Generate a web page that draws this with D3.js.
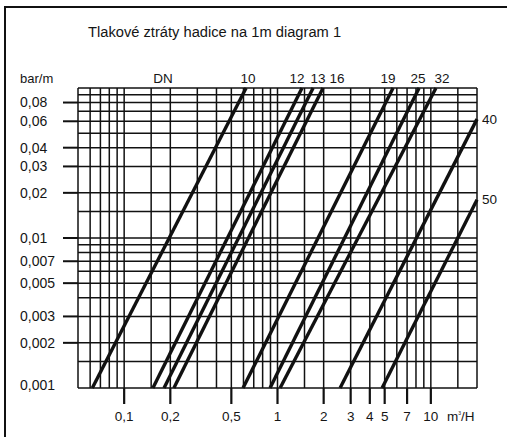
<!DOCTYPE html>
<html>
<head>
<meta charset="utf-8">
<script src="https://cdn.jsdelivr.net/npm/d3@7"></script>
<style>
  body { margin: 0; background: #fff; }
  text { font-family: "Liberation Sans", Arial, sans-serif; fill: #151515; }
</style>
</head>
<body>
<svg width="507" height="437"></svg>
<script>
// hose sizes (DN) and the two points read for each loss line
const dnLabels = ["10", "12", "13", "16", "19", "25", "32", "40", "50"];
const flowLow  = [0.062, 0.154, 0.182, 0.211, 0.596, 0.894, 1.04, 2.56, 4.81];   // m3/h at 0.001 bar/m
const flowHigh = [0.624, 1.445, 1.706, 1.98, 5.67, 8.38, 10.8, 20, 20];
const lossHigh = [0.1, 0.1, 0.1, 0.1, 0.1, 0.1, 0.1, 0.062, 0.018];               // bar/m

const xTicks = [0.1, 0.2, 0.5, 1, 2, 3, 4, 5, 7, 10];
const xTickLabels = ["0,1", "0,2", "0,5", "1", "2", "3", "4", "5", "7", "10"];
const yTicks = [0.08, 0.06, 0.04, 0.03, 0.02, 0.01, 0.007, 0.005, 0.003, 0.002, 0.001];
const yTickLabels = ["0,08", "0,06", "0,04", "0,03", "0,02", "0,01", "0,007", "0,005", "0,003", "0,002", "0,001"];

const xGrid = [0.05, 0.06, 0.07, 0.08, 0.09, 0.1, 0.15, 0.2, 0.3, 0.4, 0.5, 0.6, 0.7, 0.8, 0.9,
               1, 1.5, 2, 3, 4, 5, 6, 7, 8, 9, 10, 15, 20];
const yGrid = [0.001, 0.0015, 0.002, 0.003, 0.004, 0.005, 0.006, 0.007, 0.008, 0.009,
               0.01, 0.015, 0.02, 0.03, 0.04, 0.05, 0.06, 0.07, 0.08, 0.09, 0.1];

const svg = d3.select("svg");

const x = d3.scaleLog().domain([0.05, 20]).range([78, 477]);
const y = d3.scaleLog().domain([0.001, 0.1]).range([388, 88]);

// outer frame
svg.append("rect")
    .attr("x", 5).attr("y", 7)
    .attr("width", 530).attr("height", 460)
    .attr("fill", "none").attr("stroke", "#111").attr("stroke-width", 2);

svg.append("text")
    .attr("x", 88).attr("y", 37)
    .style("font-size", "14.7px")
    .text("Tlakové ztráty hadice na 1m diagram 1");

// grid
const grid = svg.append("g").attr("stroke", "#111").attr("stroke-width", 1.5);
grid.selectAll(".v").data(xGrid).join("line")
    .attr("x1", d => x(d)).attr("x2", d => x(d))
    .attr("y1", y(0.1)).attr("y2", y(0.001));
grid.selectAll(".h").data(yGrid).join("line")
    .attr("y1", d => y(d)).attr("y2", d => y(d))
    .attr("x1", x(0.05)).attr("x2", x(20));

// y ticks
const yAxis = svg.append("g");
yAxis.selectAll("line").data(yTicks.filter(d => d > 0.001)).join("line")
    .attr("x1", 63).attr("x2", x(0.05))
    .attr("y1", d => y(d)).attr("y2", d => y(d))
    .attr("stroke", "#111").attr("stroke-width", 2);
yAxis.selectAll("text").data(yTicks).join("text")
    .attr("x", 20).attr("y", d => y(d) - (d === 0.001 ? 3 : 0))
    .attr("dy", "0.35em")
    .style("font-size", "14px")
    .text((d, i) => yTickLabels[i]);

svg.append("text").attr("x", 20).attr("y", 83).style("font-size", "13px").text("bar/m");

// x ticks
const xAxis = svg.append("g");
xAxis.selectAll("line").data(xTicks).join("line")
    .attr("x1", d => x(d)).attr("x2", d => x(d))
    .attr("y1", y(0.001)).attr("y2", 404)
    .attr("stroke", "#111").attr("stroke-width", 2.2);
xAxis.selectAll("text").data(xTicks).join("text")
    .attr("x", d => x(d)).attr("y", 421)
    .attr("text-anchor", "middle")
    .style("font-size", "13.5px")
    .text((d, i) => xTickLabels[i]);

const unit = svg.append("text").attr("x", 447).attr("y", 421).style("font-size", "13.5px");
unit.append("tspan").text("m");
unit.append("tspan").attr("dy", -6).style("font-size", "5px").text("3");
unit.append("tspan").attr("dy", 6).text("/H");

// loss lines
const lines = dnLabels.map((dn, i) => ({
  dn: dn,
  pts: [[flowLow[i], 0.001], [flowHigh[i], lossHigh[i]]]
}));

const line = d3.line().x(d => x(d[0])).y(d => y(d[1]));

svg.append("g").selectAll("path").data(lines).join("path")
    .attr("d", d => line(d.pts))
    .attr("fill", "none").attr("stroke", "#111").attr("stroke-width", 3.4);

// DN labels: top ones above the end of each line, the last two at the right side
const topNudge = [2, -5, 5, 14, -5, -1, 6];
svg.append("text").attr("x", 163).attr("y", 83).attr("text-anchor", "middle")
    .style("font-size", "13.5px").text("DN");
svg.append("g").selectAll("text").data(lines).join("text")
    .attr("x", (d, i) => lossHigh[i] >= 0.1 ? x(flowHigh[i]) + topNudge[i] : 482)
    .attr("y", (d, i) => lossHigh[i] >= 0.1 ? 83 : y(lossHigh[i]))
    .attr("dy", (d, i) => lossHigh[i] >= 0.1 ? 0 : "0.35em")
    .attr("text-anchor", (d, i) => lossHigh[i] >= 0.1 ? "middle" : "start")
    .style("font-size", "13.5px")
    .text(d => d.dn);
</script>
</body>
</html>
